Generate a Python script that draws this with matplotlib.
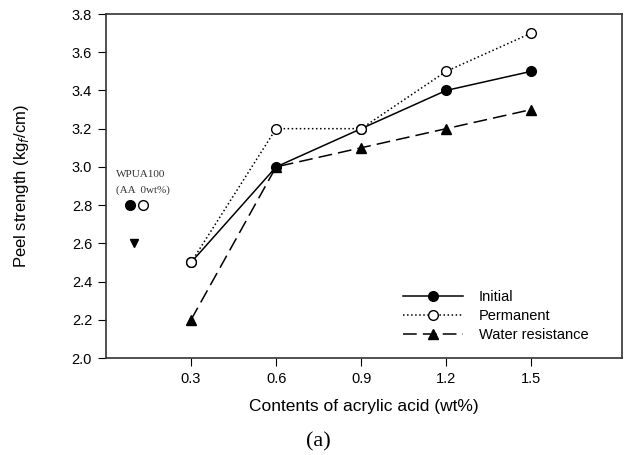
import matplotlib
matplotlib.use('Agg')
import matplotlib.pyplot as plt

plt.rcParams['font.family'] = ['Liberation Sans', 'DejaVu Sans']

acid = [0.3, 0.6, 0.9, 1.2, 1.5]
initial = [2.5, 3.0, 3.2, 3.4, 3.5]
permanent = [2.5, 3.2, 3.2, 3.5, 3.7]
water = [2.2, 3.0, 3.1, 3.2, 3.3]

# WPUA100 reference points (no acrylic acid)
ref_x = [0.085, 0.13, 0.1]
ref_y = [2.8, 2.8, 2.6]

yticks = [2.0, 2.2, 2.4, 2.6, 2.8, 3.0, 3.2, 3.4, 3.6, 3.8]

fig = plt.figure(figsize=(6.24, 4.55), dpi=100)
ax = fig.add_axes([106/624, 97/455, 516/624, 344/455])

ax.plot(acid, initial, color='black', linestyle='-', linewidth=1.1,
        marker='o', markersize=7, markerfacecolor='black', label='Initial')
ax.plot(acid, permanent, color='black', linestyle=':', linewidth=1.1,
        marker='o', markersize=7, markerfacecolor='white', label='Permanent')
ax.plot(acid, water, color='black', linestyle=(0, (9, 4)), linewidth=1.1,
        marker='^', markersize=7, markerfacecolor='black', label='Water resistance')

ax.plot(ref_x[0], ref_y[0], 'o', color='black', markersize=7)
ax.plot(ref_x[1], ref_y[1], 'o', color='black', markerfacecolor='white', markersize=7)
ax.plot(ref_x[2], ref_y[2], 'v', color='black', markersize=6)
ax.text(0.035, 2.96, 'WPUA100', family='Liberation Serif', fontsize=8, va='center', color='#333333')
ax.text(0.035, 2.88, '(AA  0wt%)', family='Liberation Serif', fontsize=8, va='center', color='#333333')

ax.set_xlim(0, 1.82)
ax.set_ylim(2.0, 3.8)
ax.set_xticks(acid)
ax.set_xticklabels(['0.3', '0.6', '0.9', '1.2', '1.5'])
ax.set_yticks(yticks)
ax.set_yticklabels([f'{v:.1f}' for v in yticks])
ax.tick_params(direction='out', length=6, labelsize=10.5, top=False, right=False, pad=4)
for s in ax.spines.values():
    s.set_linewidth(1.2)
    s.set_color('#333333')

ax.set_xlabel('Contents of acrylic acid (wt%)', fontsize=12.5, va='center')
ax.set_ylabel('Peel strength (kg$_f$/cm)', fontsize=12, va='center')
ax.xaxis.set_label_coords(0.5, (358 - 407) / 344)
ax.yaxis.set_label_coords((22 - 106) / 516, 0.5)

ax.legend(loc='upper left', bbox_to_anchor=((403 - 106) / 516, (358 - 290) / 344),
          frameon=False, fontsize=10.5, borderpad=0, borderaxespad=0,
          handlelength=4.1, handletextpad=1.1, labelspacing=0.33)

fig.text(318 / 624, 1 - 442 / 455, '(a)', family='Liberation Serif', fontsize=16,
         ha='center', va='center')

plt.savefig('out.png', dpi=100)
